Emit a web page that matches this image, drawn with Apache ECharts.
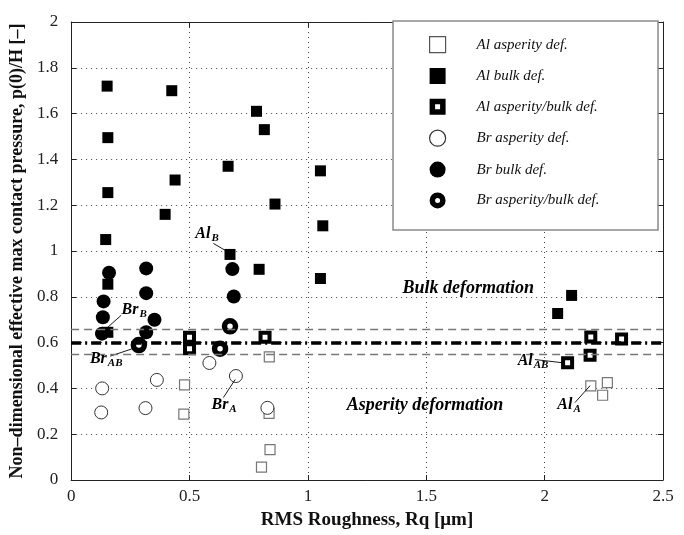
<!DOCTYPE html>
<html>
<head>
<meta charset="utf-8">
<script src="https://cdn.jsdelivr.net/npm/echarts@6/dist/echarts.min.js"></script>
<style>
  html, body { margin: 0; background: #fff; }
  #chart { width: 684px; height: 535px; }
</style>
</head>
<body>
<div id="chart"></div>
<script>
// values: [Rq (um), p(0)/H]
const alAsperity = [[0.479,0.415],[0.476,0.288],[0.837,0.538],[0.836,0.291],[0.840,0.133],[0.804,0.056],
                    [2.195,0.411],[2.265,0.425],[2.245,0.370]];
const alBulk = [[0.152,1.72],[0.425,1.70],[0.783,1.61],[0.155,1.495],[0.816,1.53],[0.663,1.37],[1.053,1.35],
                [0.439,1.31],[0.155,1.255],[0.861,1.205],[0.397,1.16],[1.063,1.11],[0.146,1.05],[0.671,0.985],
                [0.794,0.92],[1.053,0.88],[0.155,0.855],[0.155,0.645],[2.055,0.727],[2.114,0.806]];
const alAspBulk = [[0.500,0.623],[0.500,0.573],[0.819,0.623],[2.195,0.625],[2.192,0.545],[2.325,0.616],[2.097,0.512]];
const brAsperity = [[0.131,0.400],[0.127,0.295],[0.362,0.437],[0.314,0.314],[0.584,0.511],[0.696,0.454],[0.829,0.315]];
const brBulk = [[0.160,0.905],[0.137,0.780],[0.134,0.711],[0.130,0.639],[0.317,0.924],[0.317,0.816],
                [0.352,0.700],[0.317,0.645],[0.681,0.921],[0.687,0.801]];
const brAspBulk = [[0.286,0.589],[0.671,0.671],[0.629,0.573]];

const seriesNames = ['Al asperity def.', 'Al bulk def.', 'Al asperity/bulk def.',
                     'Br asperity def.', 'Br bulk def.', 'Br asperity/bulk def.'];

const transitionLine = 0.6;
const transitionBand = [0.66, 0.545];

const xTicks = { min: 0, max: 2.5, interval: 0.5 };
const yTicks = { min: 0, max: 2, interval: 0.2 };

// point labels: [main, subscript, x, y] and their leader lines
const pointLabels = [['Al','B',0.574,1.072],['Br','B',0.266,0.738],['Br','AB',0.148,0.525],
                     ['Br','A',0.646,0.325],['Al','AB',1.951,0.516],['Al','A',2.103,0.325]];
const leaders = [[[0.601,1.033],[0.657,0.999]],[[0.211,0.719],[0.148,0.661]],[[0.165,0.541],[0.270,0.577]],
                 [[0.643,0.360],[0.693,0.439]],[[1.959,0.526],[2.076,0.512]],[[2.128,0.338],[2.192,0.412]]];
const regionLabels = [['Bulk deformation',1.677,0.837],['Asperity deformation',1.495,0.325]];

const font = 'Liberation Serif';

// ring icons for the legend (square / circle with a small hole)
const ringSquare = 'path://M0,0H16V16H0Z M5.5,5.5V10.5H10.5V5.5Z';
const ringCircle = 'path://M8,0A8,8 0 1,1 8,16A8,8 0 1,1 8,0Z M8,5.5A2.5,2.5 0 1,0 8,10.5A2.5,2.5 0 1,0 8,5.5Z';

const chart = echarts.init(document.getElementById('chart'));

function scatter(name, data, symbol, size, style, z) {
  style.opacity = 1;
  return { name: name, type: 'scatter', data: data, symbol: symbol, symbolSize: size,
           itemStyle: style, z: z || 3, xAxisIndex: 0, yAxisIndex: 0 };
}

const tickStyle = { inside: true, length: 5, lineStyle: { color: '#222' } };
const lineStyle = { onZero: false, lineStyle: { color: '#222', width: 1 } };

const option = {
  animation: false,
  backgroundColor: '#fff',
  grid: { left: 71, right: 21, top: 22, bottom: 52 },
  xAxis: [{
    type: 'value', min: xTicks.min, max: xTicks.max, interval: xTicks.interval,
    name: 'RMS Roughness, Rq [\u03bcm]', nameLocation: 'middle', nameGap: 31,
    nameTextStyle: { fontFamily: font, fontWeight: 'bold', fontSize: 19, color: '#111' },
    axisLine: lineStyle, axisTick: tickStyle,
    axisLabel: { fontFamily: font, fontSize: 17, color: '#222', margin: 8 },
    splitLine: { show: true, lineStyle: { color: '#444', type: [1, 4], width: 1 } }
  }, {
    type: 'value', position: 'top', min: xTicks.min, max: xTicks.max, interval: xTicks.interval,
    axisLine: lineStyle, axisTick: tickStyle,
    axisLabel: { show: false }, splitLine: { show: false }
  }],
  yAxis: [{
    type: 'value', min: yTicks.min, max: yTicks.max, interval: yTicks.interval,
    name: 'Non\u2013dimensional effective max contact pressure, p(0)/H [\u2013]',
    nameLocation: 'middle', nameGap: 45,
    nameTextStyle: { fontFamily: font, fontWeight: 'bold', fontSize: 18, color: '#111' },
    axisLine: lineStyle, axisTick: tickStyle,
    axisLabel: { fontFamily: font, fontSize: 17, color: '#222', margin: 13 },
    splitLine: { show: true, lineStyle: { color: '#444', type: [1, 4], width: 1 } }
  }, {
    type: 'value', position: 'right', min: yTicks.min, max: yTicks.max, interval: yTicks.interval,
    axisLine: lineStyle, axisTick: tickStyle,
    axisLabel: { show: false }, splitLine: { show: false }
  }],
  legend: {
    data: [
      { name: seriesNames[0], itemStyle: { color: '#fff', borderColor: '#555', borderWidth: 1.2 } },
      { name: seriesNames[1], itemStyle: { color: '#000', borderWidth: 0 } },
      { name: seriesNames[2], icon: ringSquare, itemStyle: { color: '#000', borderWidth: 0 } },
      { name: seriesNames[3], itemStyle: { color: '#fff', borderColor: '#333', borderWidth: 1.2 } },
      { name: seriesNames[4], itemStyle: { color: '#000', borderWidth: 0 } },
      { name: seriesNames[5], icon: ringCircle, itemStyle: { color: '#000', borderWidth: 0 } }
    ],
    orient: 'vertical', left: 429, top: 36, padding: 0,
    itemWidth: 16, itemHeight: 16, itemGap: 14.8, z: 20,
    textStyle: { fontFamily: font, fontStyle: 'italic', fontSize: 15, color: '#111',
                 lineHeight: 16, padding: [0, 0, 0, 26] }
  },
  graphic: [{
    type: 'rect', z: 15, shape: { x: 393, y: 21, width: 265, height: 209 },
    style: { fill: '#fff', stroke: '#8a8a8a', lineWidth: 1.5 }
  }],
  series: [
    scatter(seriesNames[0], alAsperity, 'rect', 10, { color: '#fff', borderColor: '#777', borderWidth: 1.2 }),
    scatter(seriesNames[1], alBulk, 'rect', 11, { color: '#000' }),
    scatter(seriesNames[2], alAspBulk, 'rect', 9, { color: '#fff', borderColor: '#000', borderWidth: 4 }, 4),
    scatter(seriesNames[3], brAsperity, 'circle', 13, { color: '#fff', borderColor: '#333', borderWidth: 1 }),
    scatter(seriesNames[4], brBulk, 'circle', 14, { color: '#000' }),
    scatter(seriesNames[5], brAspBulk, 'circle', 11, { color: '#fff', borderColor: '#000', borderWidth: 5.5 }, 4),
    {
      name: 'labels', type: 'scatter', symbolSize: 0, z: 6, itemStyle: { opacity: 1 },
      data: pointLabels.map(function (p) { return { value: [p[2], p[3]], main: p[0], sub: p[1] }; }),
      label: {
        show: true, position: 'inside', opacity: 1,
        formatter: function (p) { return '{m|' + p.data.main + '}{s|' + p.data.sub + '}'; },
        rich: {
          m: { fontFamily: font, fontStyle: 'italic', fontWeight: 'bold', fontSize: 16, color: '#000',
               verticalAlign: 'top', lineHeight: 18 },
          s: { fontFamily: font, fontStyle: 'italic', fontWeight: 'bold', fontSize: 11, color: '#000',
               verticalAlign: 'bottom', lineHeight: 12, padding: [14, 0, 0, 1] }
        }
      },
      markLine: {
        silent: true, symbol: 'none', animation: false,
        lineStyle: { color: '#000', width: 0.9, type: 'solid', opacity: 1 },
        label: { show: false },
        data: leaders.map(function (l) { return [{ coord: l[0] }, { coord: l[1] }]; })
      }
    },
    {
      name: 'regions', type: 'scatter', symbolSize: 0, z: 6, itemStyle: { opacity: 1 },
      data: regionLabels.map(function (r) { return { value: [r[1], r[2]], text: r[0] }; }),
      label: {
        show: true, position: 'inside', opacity: 1, formatter: function (p) { return p.data.text; },
        fontFamily: font, fontStyle: 'italic', fontWeight: 'bold', fontSize: 18, color: '#000'
      }
    },
    {
      name: 'thresholds', type: 'line', data: [], z: 2,
      markLine: {
        silent: true, symbol: 'none', animation: false, label: { show: false },
        data: [
          { yAxis: transitionLine, lineStyle: { color: '#000', width: 3.5, type: [10, 4, 2, 4] } },
          { yAxis: transitionBand[0], lineStyle: { color: '#777', width: 1.3, type: [8, 5] } },
          { yAxis: transitionBand[1], lineStyle: { color: '#777', width: 1.3, type: [8, 5] } }
        ]
      }
    }
  ]
};

chart.setOption(option);
</script>
</body>
</html>
